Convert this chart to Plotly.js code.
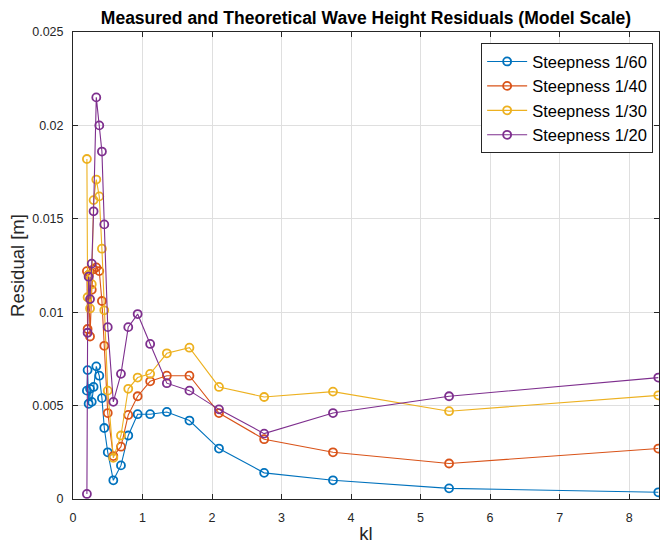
<!DOCTYPE html>
<html>
<head>
<meta charset="utf-8">
<script src="https://cdn.plot.ly/plotly-3.0.1.min.js"></script>
<style>html,body{margin:0;padding:0;background:#fff;}#chart{width:661px;height:546px;}</style>
</head>
<body>
<div id="chart"></div>
<script>
const kl = [0.20, 0.21, 0.225, 0.245, 0.27, 0.296, 0.335, 0.378, 0.416, 0.45, 0.50, 0.58, 0.69, 0.795, 0.93, 1.11, 1.35, 1.675, 2.10, 2.75, 3.74, 5.41, 8.42];
const res60 = [0.0058, 0.0069, 0.0051, 0.0059, 0.0052, 0.0060, 0.0071, 0.0066, 0.0054, 0.0038, 0.0025, 0.0010, 0.0018, 0.0034, 0.00454, 0.00454, 0.00466, 0.0042, 0.0027, 0.0014, 0.0010, 0.00057, 0.00036];
const res40 = [0.0122, 0.0091, 0.0120, 0.0087, 0.0112, 0.0123, 0.0124, 0.0122, 0.0106, 0.0082, 0.0046, 0.0023, 0.0028, 0.0045, 0.0055, 0.0063, 0.0066, 0.0066, 0.0046, 0.0032, 0.0025, 0.0019, 0.0027];
const res30 = [0.0182, 0.0108, 0.0120, 0.0102, 0.0115, 0.0160, 0.0171, 0.0162, 0.0134, 0.0101, 0.0058, 0.0022, 0.0034, 0.0059, 0.0065, 0.0067, 0.0078, 0.0081, 0.0060, 0.00546, 0.00575, 0.0047, 0.00555];
const res20 = [0.00027, 0.0089, 0.0119, 0.0107, 0.0126, 0.0154, 0.0215, 0.0200, 0.0186, 0.0147, 0.0092, 0.0052, 0.0067, 0.0092, 0.0099, 0.0083, 0.0062, 0.0058, 0.0048, 0.0035, 0.0046, 0.0055, 0.0065];
const seriesNames = ['Steepness 1/60', 'Steepness 1/40', 'Steepness 1/30', 'Steepness 1/20'];
const xTicks = [0, 1, 2, 3, 4, 5, 6, 7, 8];
const yTicks = [0, 0.005, 0.01, 0.015, 0.02, 0.025];
const yTickText = ['0', '0.005', '0.01', '0.015', '0.02', '0.025'];

const FONT = 'Liberation Sans, Arial, Helvetica, sans-serif';
const colors = ['#0072BD', '#D95319', '#EDB120', '#7E2F8E'];
const allY = [res60, res40, res30, res20];
const traces = allY.map((ys, i) => ({
  x: kl, y: ys, name: seriesNames[i], type: 'scatter', mode: 'lines+markers',
  line: {color: colors[i], width: 1.1},
  marker: {symbol: 'circle-open', size: 8, color: colors[i], line: {width: 1.8, color: colors[i]}}
}));

const axisCommon = {
  showline: true, linecolor: '#262626', linewidth: 1, mirror: 'ticks',
  ticks: 'inside', ticklen: 5, tickcolor: '#262626',
  showgrid: true, gridcolor: '#dfdfdf', gridwidth: 1, zeroline: false,
  tickfont: {family: FONT, size: 12.5, color: '#262626'}
};

const layout = {
  width: 661, height: 546,
  margin: {l: 73, r: 2, t: 32, b: 47},
  paper_bgcolor: '#ffffff', plot_bgcolor: '#ffffff',
  title: {text: '<b>Measured and Theoretical Wave Height Residuals (Model Scale)</b>',
    font: {family: FONT, size: 17.5, color: '#000'},
    x: 0.5, xref: 'paper', xanchor: 'center', yref: 'container', y: 0.968, yanchor: 'middle'},
  xaxis: Object.assign({}, axisCommon, {range: [0, 8.43], tickvals: xTicks, ticklabelstandoff: 7,
    title: {text: 'kl', font: {family: FONT, size: 18.5, color: '#262626'}, standoff: 3}}),
  yaxis: Object.assign({}, axisCommon, {range: [0, 0.025], tickvals: yTicks, ticktext: yTickText, ticklabelstandoff: 6,
    title: {text: 'Residual [m]', font: {family: FONT, size: 18.5, color: '#262626'}, standoff: 2}}),
  legend: {x: 0.99, xanchor: 'right', y: 0.976, yanchor: 'top',
    bgcolor: '#ffffff', bordercolor: '#262626', borderwidth: 1,
    font: {family: FONT, size: 16.5, color: '#000'},
    itemwidth: 40, tracegroupgap: 0},
  showlegend: true
};

Plotly.newPlot('chart', traces, layout, {displayModeBar: false, staticPlot: true});
</script>
</body>
</html>
